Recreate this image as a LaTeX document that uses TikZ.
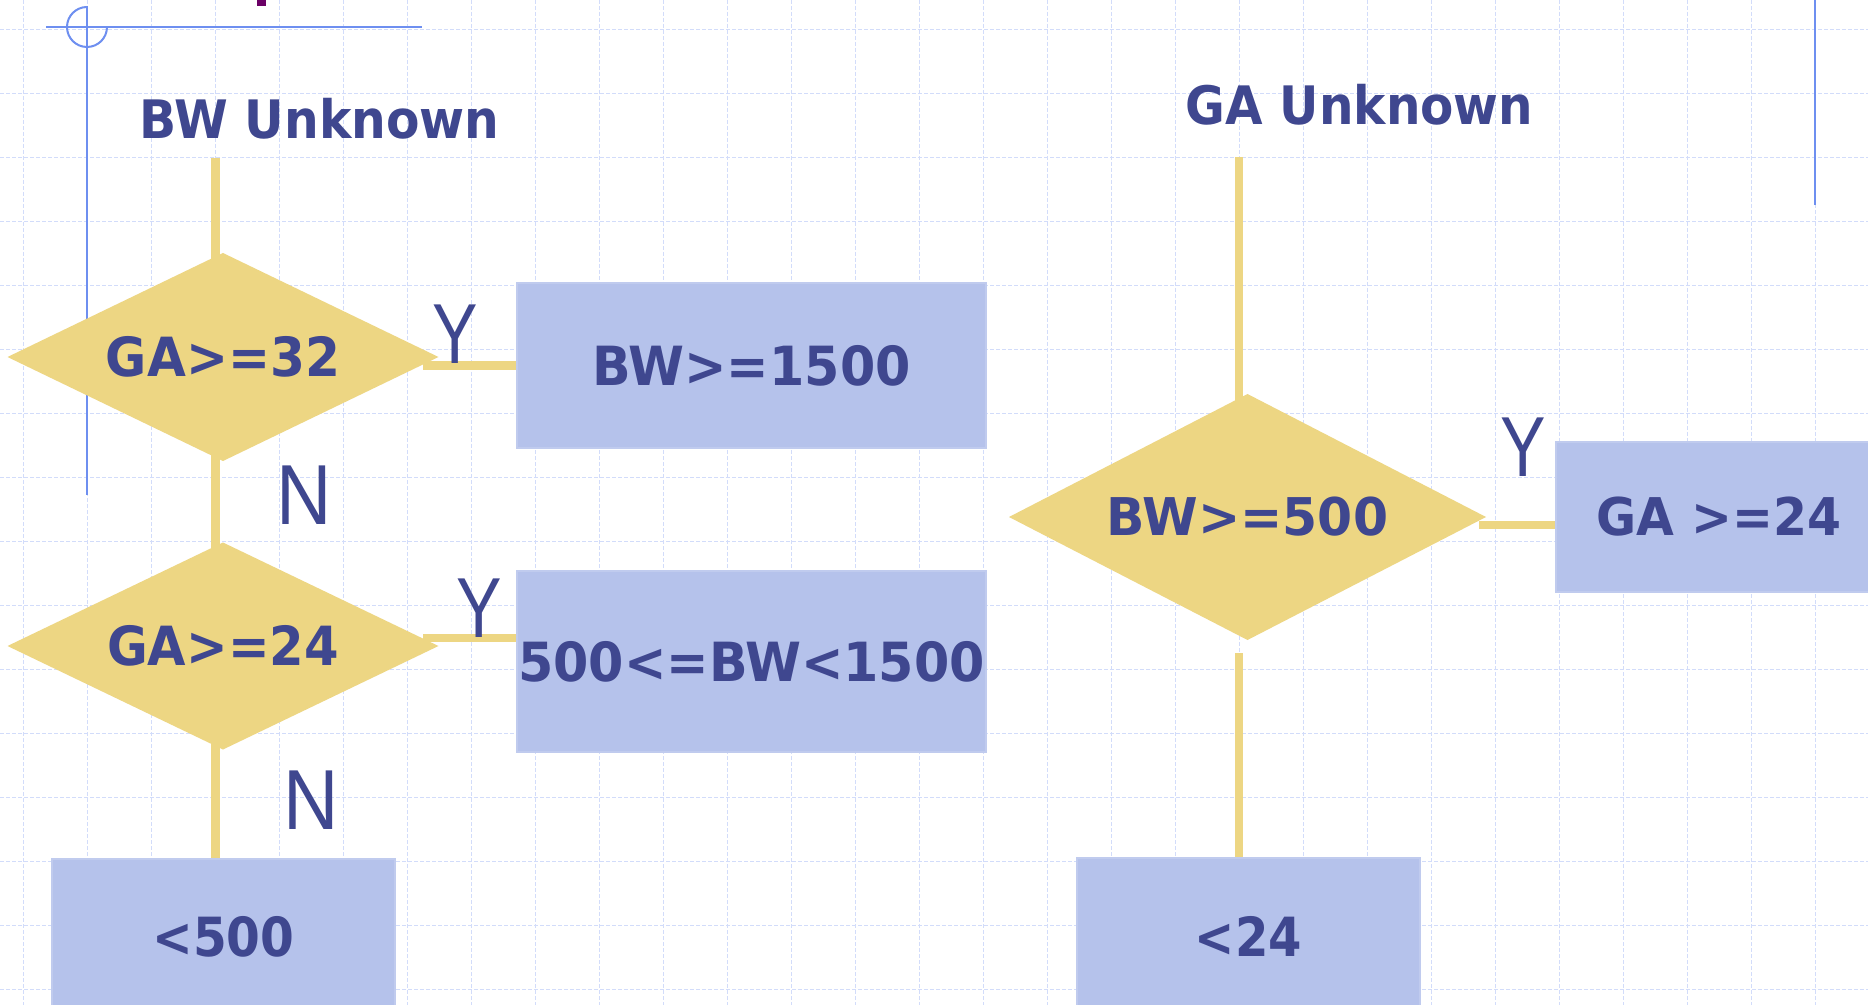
\documentclass[tikz,border=0pt]{standalone}
\usepackage{fontspec}
\setmainfont{DejaVu Sans}
\newfontfamily\ynfont{Liberation Sans}
\usepackage{graphicx}
\usetikzlibrary{shapes.geometric,backgrounds}
\definecolor{diac}{HTML}{EDD683}
\definecolor{boxc}{HTML}{B5C2EB}
\definecolor{txtc}{HTML}{3F478F}
\definecolor{gridc}{HTML}{D2DCFA}
\definecolor{bluel}{HTML}{6E8FF0}
\definecolor{purp}{HTML}{6B0066}
\newcommand{\sx}[2]{\scalebox{#1}[1]{#2}}
\begin{document}
\begin{tikzpicture}[x=0.5pt,y=-0.5pt,
  dianode/.style={diamond, fill=diac, inner sep=0pt, outer sep=0pt, text=txtc},
  boxnode/.style={rectangle, fill=boxc, draw=boxc!85!white, line width=0.6pt, inner sep=0pt, outer sep=0pt, text=txtc},
  bigtxt/.style={font=\bfseries\fontsize{27}{30}\selectfont},
  midtxt/.style={font=\bfseries\fontsize{26}{30}\selectfont},
  conn/.style={draw=diac, line width=4.3pt},
  ttl/.style={text=txtc, inner sep=0pt, anchor=base, font=\bfseries\fontsize{26.5}{30}\selectfont},
  ynlab/.style={text=txtc, inner sep=0pt, anchor=base, font=\ynfont\fontsize{42.6}{46}\selectfont},
  guide/.style={draw=bluel, line width=1pt},
  gridline/.style={draw=gridc, line width=0.45pt, dash pattern=on 2pt off 1pt}]
\useasboundingbox (0,0) rectangle (1868,1005);
\clip (0,0) rectangle (1868,1005);

% titles
\node[ttl] (t1) at (319.5,139) {\sx{0.92}{BW Unknown}};
\node[ttl] (t2) at (1359.5,125) {\sx{0.915}{GA Unknown}};

% decisions
\node[dianode, bigtxt, aspect=2.07, minimum width=215.5pt, minimum height=104pt] (d1) at (223,357) {\sx{0.93}{GA>=32}};
\node[dianode, bigtxt, aspect=2.08, minimum width=215.5pt, minimum height=103.5pt] (d2) at (223,646) {\sx{0.92}{GA>=24}};
\node[dianode, midtxt, aspect=1.94, minimum width=238.5pt, minimum height=123pt] (d3) at (1247.5,517) {\sx{0.97}{BW>=500}};

% results
\node[boxnode, bigtxt, minimum width=234.5pt, minimum height=82.5pt] (b1) at (751.5,365.5) {\sx{0.94}{BW>=1500}};
\node[boxnode, bigtxt, minimum width=234.5pt, minimum height=90.5pt] (b2) at (751.5,661.5) {\sx{0.94}{500<=BW<1500}};
\node[boxnode, bigtxt, minimum width=171.5pt, minimum height=78pt] (b3) at (223.5,937) {\sx{0.9}{<500}};
\node[boxnode, midtxt, minimum width=163pt, minimum height=75pt] (b4) at (1719,517) {\sx{0.94}{GA >=24}};
\node[boxnode, bigtxt, minimum width=171.5pt, minimum height=78.5pt] (b5) at (1248.5,936.5) {\sx{0.89}{<24}};

% Y / N labels
\node[ynlab] (y1) at (455,364) {\sx{0.8}{Y}};
\node[ynlab] (y2) at (479.5,637) {\sx{0.8}{Y}};
\node[ynlab] (y3) at (1523,476) {\sx{0.8}{Y}};
\node[ynlab] (n1) at (304,524) {\sx{0.9}{N}};
\node[ynlab] (n2) at (311.5,829) {\sx{0.9}{N}};

% small purple mark at top
\fill[purp] (257,0) rectangle (266,6);

\begin{pgfonlayer}{background}
  \fill[white] (0,0) rectangle (1868,1005);
  \foreach \gx in {23,87,...,1815} \draw[gridline] (\gx,0) -- (\gx,1005);
  \foreach \gy in {29,93,...,989} \draw[gridline] (0,\gy) -- (1868,\gy);
  % guide lines
  \draw[guide] (46,27) -- (422,27);
  \draw[guide] (87,6) -- (87,495);
  \draw[guide] (87,7) arc[start angle=270, end angle=0, radius=20];
  \draw[guide] (1815,0) -- (1815,205);
  % connectors
  \coordinate (a1) at (215.5,158);
  \coordinate (a2) at (1239,157);
  \coordinate (h1) at (423,365.5);
  \coordinate (h2) at (423,638);
  \coordinate (h3) at (1479,525);
  \coordinate (d3b) at ([yshift=-6.5pt]d3.south);
  \draw[conn] (a1) -- (a1 |- d1.center);
  \draw[conn] (a1 |- d1.center) -- (a1 |- d2.center);
  \draw[conn] (a1 |- d2.center) -- (a1 |- b3.north);
  \draw[conn] (h1) -- (h1 -| b1.west);
  \draw[conn] (h2) -- (h2 -| b2.west);
  \draw[conn] (a2) -- (a2 |- d3.center);
  \draw[conn] (a2 |- d3b) -- (a2 |- b5.north);
  \draw[conn] (h3) -- (h3 -| b4.west);
\end{pgfonlayer}
\end{tikzpicture}
\end{document}
